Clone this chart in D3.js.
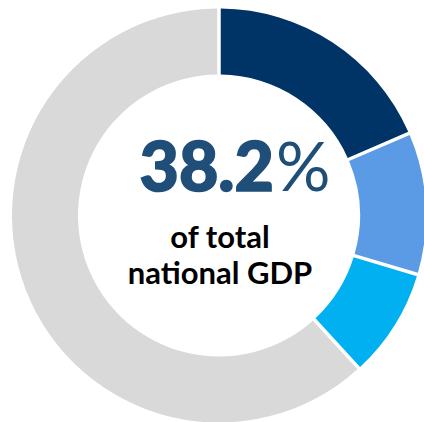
<!DOCTYPE html>
<html>
<meta charset="utf-8">
<head>
  <script src="https://d3js.org/d3.v7.min.js"></script>
  <style>
    body { margin: 0; background: #fff; }
    svg { display: block; }
    .big { font-family: Lato, sans-serif; font-weight: 900; fill: #1f4e79; stroke: #1f4e79; stroke-width: 1.6px; }
    .pct { font-family: Lato, sans-serif; font-weight: 400; fill: #1f4e79; }
    .sub { font-family: Lato, sans-serif; font-weight: 700; fill: #000; }
  </style>
</head>
<body>
<div id="chart"></div>
<script>
  "use strict"

  // shares of national GDP (%), clockwise from 12 o'clock
  var categories = ["A", "B", "C", "Rest"];
  var values = [18.5, 11.1, 8.6, 61.8];
  var colors = ["#003366", "#5b9be6", "#00b0f0", "#d9d9d9"];
  var headline = "38.2";
  var subLines = ["of total", "national GDP"];

  var width = 424,
      height = 422,
      cx = 219,
      cy = 215.5,
      outer = 207,
      inner = 141;

  var svg = d3.select("#chart")
      .append("svg")
      .attr("width", width)
      .attr("height", height);

  var pie = d3.pie()
      .sort(null)
      .value(function(d) { return d; });

  var arc = d3.arc()
      .innerRadius(inner)
      .outerRadius(outer)
      .padRadius(outer)
      .padAngle(3.5 / outer);

  var g = svg.append("g")
      .attr("transform", "translate(" + cx + "," + cy + ")");

  g.selectAll("path")
      .data(pie(values))
    .enter().append("path")
      .attr("d", arc)
      .attr("fill", function(d, i) { return colors[i]; });

  var t = g.append("text")
      .attr("x", 16)
      .attr("y", -25)
      .attr("text-anchor", "middle");
  t.append("tspan").attr("class", "big").attr("font-size", 68).text(headline);
  t.append("tspan").attr("class", "pct").attr("font-size", 68).attr("dx", 2).text("%");

  g.selectAll(".sub")
      .data(subLines)
    .enter().append("text")
      .attr("class", "sub")
      .attr("text-anchor", "middle")
      .attr("x", 1)
      .attr("y", function(d, i) { return 32 + i * 36; })
      .attr("font-size", 31)
      .text(function(d) { return d; });
</script>
</body>
</html>
